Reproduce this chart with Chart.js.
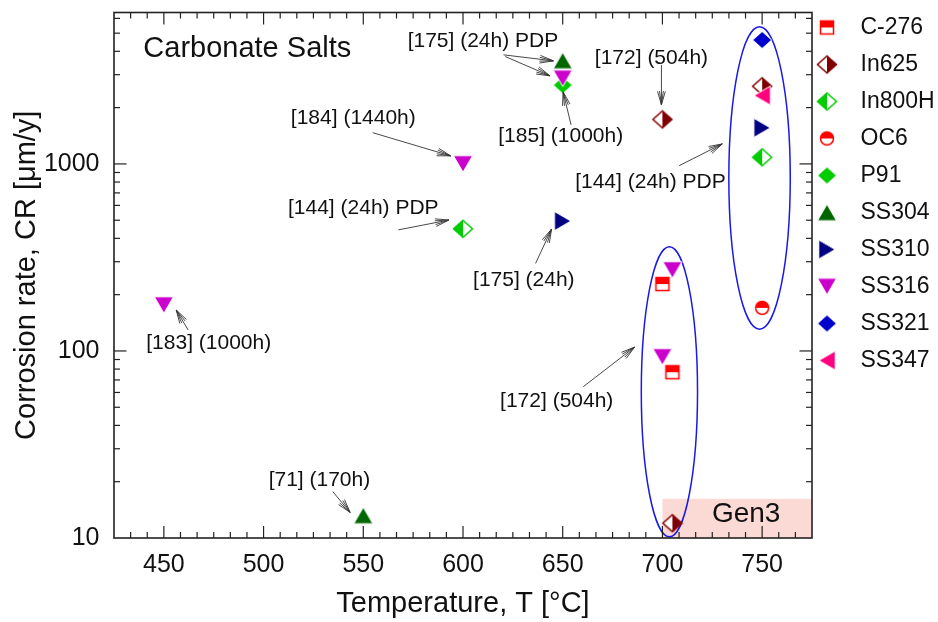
<!DOCTYPE html>
<html>
<head>
<meta charset="utf-8">
<script src="https://cdn.jsdelivr.net/npm/chart.js@4.4.1/dist/chart.umd.min.js"></script>
<style>
  html, body { margin: 0; padding: 0; background: #fff; }
  #c { display: block; }
</style>
</head>
<body>
<canvas id="c" width="938" height="622"></canvas>
<script>
// ---- data: corrosion rate (µm/y) vs temperature (°C) in carbonate salts ----
const seriesNames = ['C-276', 'In625', 'In800H', 'OC6', 'P91', 'SS304', 'SS310', 'SS316', 'SS321', 'SS347'];

const c276T   = [700, 705];                 const c276CR   = [228, 77];
const in625T  = [700, 750, 705];            const in625CR  = [1730, 2600, 12];
const in800hT = [600, 750];                 const in800hCR = [450, 1085];
const oc6T    = [750];                      const oc6CR    = [170];
const p91T    = [650];                      const p91CR    = [2640];
const ss304T  = [550, 650];                 const ss304CR  = [13.2, 3570];
const ss310T  = [650, 750];                 const ss310CR  = [495, 1560];
const ss316T  = [450, 600, 650, 700, 705];  const ss316CR  = [176, 1000, 2870, 93, 271];
const ss321T  = [750];                      const ss321CR  = [4600];
const ss347T  = [750];                      const ss347CR  = [2320];

const xTickLabels = [450, 500, 550, 600, 650, 700, 750];
const yTickLabels = [10, 100, 1000];

// literature references with exposure times, and the arrows pointing at their points
const noteText = ['[175] (24h) PDP', '[185] (1000h)', '[184] (1440h)', '[144] (24h) PDP', '[175] (24h)',
                  '[172] (504h)', '[144] (24h) PDP', '[183] (1000h)', '[71] (170h)', '[172] (504h)'];
const noteT  = [610, 649, 545, 550, 630.5, 694.5, 694, 472.5, 528, 647];
const noteCR = [4550, 1410, 1760, 582, 240, 3670, 794, 110, 20.4, 53.6];

const arrowFromT  = [620.3, 621.2, 654.2, 554.7, 567.6, 636.4, 699.5, 708.4, 462.2, 534.7, 660.3];
const arrowFromCR = [3830, 3750, 1618, 1469, 444, 294, 3381, 979, 129.4, 17.7, 64.4];
const arrowToT    = [645.3, 643.6, 650.2, 593.8, 592.9, 644.4, 699.5, 730.0, 456.2, 543.4, 686.0];
const arrowToCR   = [3557, 2958, 2427, 1104, 501, 448, 2070, 1279, 165.6, 13.7, 104.8];

// groups circled in the plot: centre T, half-width in T, CR top, CR bottom
const groupT     = [703.5, 748.7];
const groupHalfT = [14.1, 15.4];
const groupTopCR = [361, 5420];
const groupBotCR = [10.16, 130.6];

// Gen3 operating window
const gen3FromT = 700;
const gen3TopCR = 16.2;

// ---- marker appearance ----
const seriesT  = [c276T, in625T, in800hT, oc6T, p91T, ss304T, ss310T, ss316T, ss321T, ss347T];
const seriesCR = [c276CR, in625CR, in800hCR, oc6CR, p91CR, ss304CR, ss310CR, ss316CR, ss321CR, ss347CR];
const markerStyle = [
  {color: '#FF0000', shape: 'square',  fill: 'top'},
  {color: '#800000', shape: 'diamond', fill: 'right'},
  {color: '#00CC00', shape: 'diamond', fill: 'left'},
  {color: '#FF0000', shape: 'circle',  fill: 'top'},
  {color: '#00CC00', shape: 'diamond', fill: 'full'},
  {color: '#006600', shape: 'triUp',   fill: 'full'},
  {color: '#000080', shape: 'triRight',fill: 'full'},
  {color: '#CC00CC', shape: 'triDown', fill: 'full'},
  {color: '#0000CC', shape: 'diamond', fill: 'full'},
  {color: '#FF007F', shape: 'triLeft', fill: 'full'}
];

function shapePath(g, shape, cx, cy) {
  g.beginPath();
  if (shape === 'square') {
    g.rect(cx - 6.5, cy - 6.5, 13, 13);
  } else if (shape === 'circle') {
    g.arc(cx, cy, 6.5, 0, Math.PI * 2);
  } else if (shape === 'diamond') {
    g.moveTo(cx, cy - 8.5); g.lineTo(cx + 9.5, cy); g.lineTo(cx, cy + 8.5); g.lineTo(cx - 9.5, cy); g.closePath();
  } else if (shape === 'triUp') {
    g.moveTo(cx, cy - 8.2); g.lineTo(cx + 9.5, cy + 8.2); g.lineTo(cx - 9.5, cy + 8.2); g.closePath();
  } else if (shape === 'triDown') {
    g.moveTo(cx, cy + 8.2); g.lineTo(cx + 9.5, cy - 8.2); g.lineTo(cx - 9.5, cy - 8.2); g.closePath();
  } else if (shape === 'triRight') {
    g.moveTo(cx + 8.2, cy); g.lineTo(cx - 8.2, cy - 9.5); g.lineTo(cx - 8.2, cy + 9.5); g.closePath();
  } else if (shape === 'triLeft') {
    g.moveTo(cx - 8.2, cy); g.lineTo(cx + 8.2, cy - 9.5); g.lineTo(cx + 8.2, cy + 9.5); g.closePath();
  }
}

function makeIcon(style, shiftX) {
  const S = 24;
  const W = S + Math.abs(shiftX) * 2;
  const c = document.createElement('canvas');
  c.width = W; c.height = S;
  const g = c.getContext('2d');
  const cx = W / 2 + shiftX, cy = S / 2;
  if (style.fill === 'full') {
    shapePath(g, style.shape, cx, cy);
    g.fillStyle = style.color; g.fill();
    g.strokeStyle = '#ffffff'; g.lineWidth = 1; g.stroke();
  } else {
    g.save();
    shapePath(g, style.shape, cx, cy);
    g.clip();
    g.fillStyle = '#ffffff'; g.fillRect(0, 0, W, S);
    g.fillStyle = style.color;
    if (style.fill === 'top') g.fillRect(0, 0, W, cy);
    if (style.fill === 'left') g.fillRect(0, 0, cx, S);
    if (style.fill === 'right') g.fillRect(cx, 0, W - cx, S);
    g.restore();
    shapePath(g, style.shape, cx, cy);
    g.strokeStyle = style.color; g.lineWidth = 1.5; g.stroke();
  }
  return c;
}

const plotIcons = markerStyle.map(s => makeIcon(s, 0));
const legendIcons = markerStyle.map(s => makeIcon(s, -10.5));

const FONT = "'Liberation Sans', Arial, sans-serif";
Chart.defaults.font.family = FONT;
Chart.defaults.color = '#111';

const datasets = seriesNames.map((name, i) => ({
  label: name,
  data: seriesT[i].map((t, j) => ({x: t, y: seriesCR[i][j]})),
  pointStyle: plotIcons[i],
  pointRadius: 10,
  pointHoverRadius: 10,
  showLine: false,
  order: seriesNames.length - 1 - i
}));

// ---- plot decorations drawn through the scales ----
const backdrop = {
  id: 'backdrop',
  beforeDatasetsDraw(chart) {
    const {ctx, chartArea: a, scales: {x, y}} = chart;
    ctx.save();
    // Gen3 window
    const gx = x.getPixelForValue(gen3FromT);
    const gy = y.getPixelForValue(gen3TopCR);
    ctx.fillStyle = '#FBD9D5';
    ctx.fillRect(gx, gy, a.right - gx, a.bottom - gy);
    ctx.fillStyle = '#111';
    ctx.font = '28px ' + FONT;
    ctx.textAlign = 'center'; ctx.textBaseline = 'middle';
    ctx.fillText('Gen3', x.getPixelForValue(742), y.getPixelForValue(13.4));
    // circled groups
    ctx.strokeStyle = '#1A1AE6'; ctx.lineWidth = 1.5;
    for (let i = 0; i < groupT.length; i++) {
      const cx = x.getPixelForValue(groupT[i]);
      const rx = x.getPixelForValue(groupT[i] + groupHalfT[i]) - cx;
      const top = y.getPixelForValue(groupTopCR[i]);
      const bot = y.getPixelForValue(groupBotCR[i]);
      ctx.beginPath();
      ctx.ellipse(cx, (top + bot) / 2, rx, (bot - top) / 2, 0, 0, Math.PI * 2);
      ctx.stroke();
    }
    ctx.restore();
  }
};

function arrow(ctx, x1, y1, x2, y2) {
  ctx.beginPath(); ctx.moveTo(x1, y1); ctx.lineTo(x2, y2); ctx.stroke();
  const ang = Math.atan2(y2 - y1, x2 - x1);
  for (const d of [0.28, 0.14]) {
    ctx.beginPath();
    ctx.moveTo(x2 - 14 * Math.cos(ang - d), y2 - 14 * Math.sin(ang - d));
    ctx.lineTo(x2, y2);
    ctx.lineTo(x2 - 14 * Math.cos(ang + d), y2 - 14 * Math.sin(ang + d));
    ctx.stroke();
  }
}

const overlay = {
  id: 'overlay',
  afterDatasetsDraw(chart) {
    const {ctx, chartArea: a, scales: {x, y}} = chart;
    ctx.save();
    // frame with inward ticks on all four sides
    ctx.strokeStyle = '#222';
    ctx.lineWidth = 1.6;
    ctx.strokeRect(a.left, a.top, a.right - a.left, a.bottom - a.top);
    ctx.lineWidth = 1.2;
    const seg = (x1, y1, x2, y2) => { ctx.beginPath(); ctx.moveTo(x1, y1); ctx.lineTo(x2, y2); ctx.stroke(); };
    const xStep = (xTickLabels[1] - xTickLabels[0]) / 6;
    for (let k = -6; k <= 6 * xTickLabels.length; k++) {
      const v = xTickLabels[0] + k * xStep;
      if (v <= x.min + 0.01 || v >= x.max - 0.01) continue;
      const px = x.getPixelForValue(v);
      const len = (k % 6 === 0) ? 12 : 6;
      seg(px, a.bottom, px, a.bottom - len);
      seg(px, a.top, px, a.top + len);
    }
    for (const dec of [1, 10, 100, 1000]) {
      for (let m = 1; m <= 9; m++) {
        const v = m * dec;
        if (v <= y.min * 1.0001 || v >= y.max) continue;
        const py = y.getPixelForValue(v);
        const len = (m === 1) ? 12.5 : 6;
        seg(a.left, py, a.left + len, py);
        seg(a.right, py, a.right - len, py);
      }
    }
    // notes and arrows
    ctx.strokeStyle = '#333'; ctx.lineWidth = 0.9;
    for (let i = 0; i < arrowFromT.length; i++) {
      arrow(ctx, x.getPixelForValue(arrowFromT[i]), y.getPixelForValue(arrowFromCR[i]),
                 x.getPixelForValue(arrowToT[i]), y.getPixelForValue(arrowToCR[i]));
    }
    ctx.fillStyle = '#111';
    ctx.font = '21px ' + FONT;
    ctx.textAlign = 'center'; ctx.textBaseline = 'middle';
    for (let i = 0; i < noteText.length; i++) {
      ctx.fillText(noteText[i], x.getPixelForValue(noteT[i]), y.getPixelForValue(noteCR[i]));
    }
    ctx.font = '29px ' + FONT;
    ctx.textAlign = 'left';
    ctx.fillText('Carbonate Salts', x.getPixelForValue(439.7), y.getPixelForValue(4130));
    ctx.restore();
  }
};

new Chart(document.getElementById('c'), {
  type: 'scatter',
  data: {datasets},
  options: {
    responsive: false,
    animation: false,
    events: [],
    layout: {padding: {top: 2, right: 0, bottom: 0, left: 0}},
    plugins: {
      tooltip: {enabled: false},
      legend: {
        position: 'right',
        align: 'start',
        maxWidth: 126,
        labels: {
          usePointStyle: true,
          pointStyleWidth: 23,
          padding: 14,
          color: '#111',
          font: {size: 23, family: FONT},
          generateLabels: (chart) => chart.data.datasets.map((ds, i) => ({
            text: ds.label,
            pointStyle: legendIcons[i],
            datasetIndex: i,
            hidden: false,
            lineWidth: 0,
            fillStyle: 'rgba(0,0,0,0)',
            strokeStyle: 'rgba(0,0,0,0)',
            fontColor: '#111'
          }))
        }
      }
    },
    scales: {
      x: {
        type: 'linear',
        position: 'bottom',
        min: 425, max: 775,
        grid: {display: false, drawTicks: false},
        border: {display: false},
        afterBuildTicks: (s) => { s.ticks = xTickLabels.map(v => ({value: v})); },
        ticks: {padding: 12, color: '#111', font: {size: 25}, callback: (v) => String(v)},
        title: {display: true, text: 'Temperature, T [°C]', color: '#111', font: {size: 29}, padding: {top: 0, bottom: 1}},
        afterFit: (s) => { s.height = 84; s.paddingLeft = 0; s.paddingRight = 0; }
      },
      x2: {
        type: 'linear',
        position: 'top',
        min: 425, max: 775,
        grid: {display: false},
        border: {display: false},
        ticks: {display: false},
        afterFit: (s) => { s.height = 10.5; }
      },
      y: {
        type: 'logarithmic',
        position: 'left',
        min: 10, max: 6450,
        grid: {display: false, drawTicks: false},
        border: {display: false},
        afterBuildTicks: (s) => { s.ticks = yTickLabels.map(v => ({value: v})); },
        ticks: {padding: 14.5, color: '#111', font: {size: 25}, callback: (v) => String(v)},
        title: {display: true, text: 'Corrosion rate, CR [μm/y]', color: '#111', font: {size: 29}, padding: {top: 10, bottom: 0}},
        afterFit: (s) => { s.width = 114; s.paddingTop = 0; s.paddingBottom = 0; }
      }
    }
  },
  plugins: [backdrop, overlay]
});
</script>
</body>
</html>
